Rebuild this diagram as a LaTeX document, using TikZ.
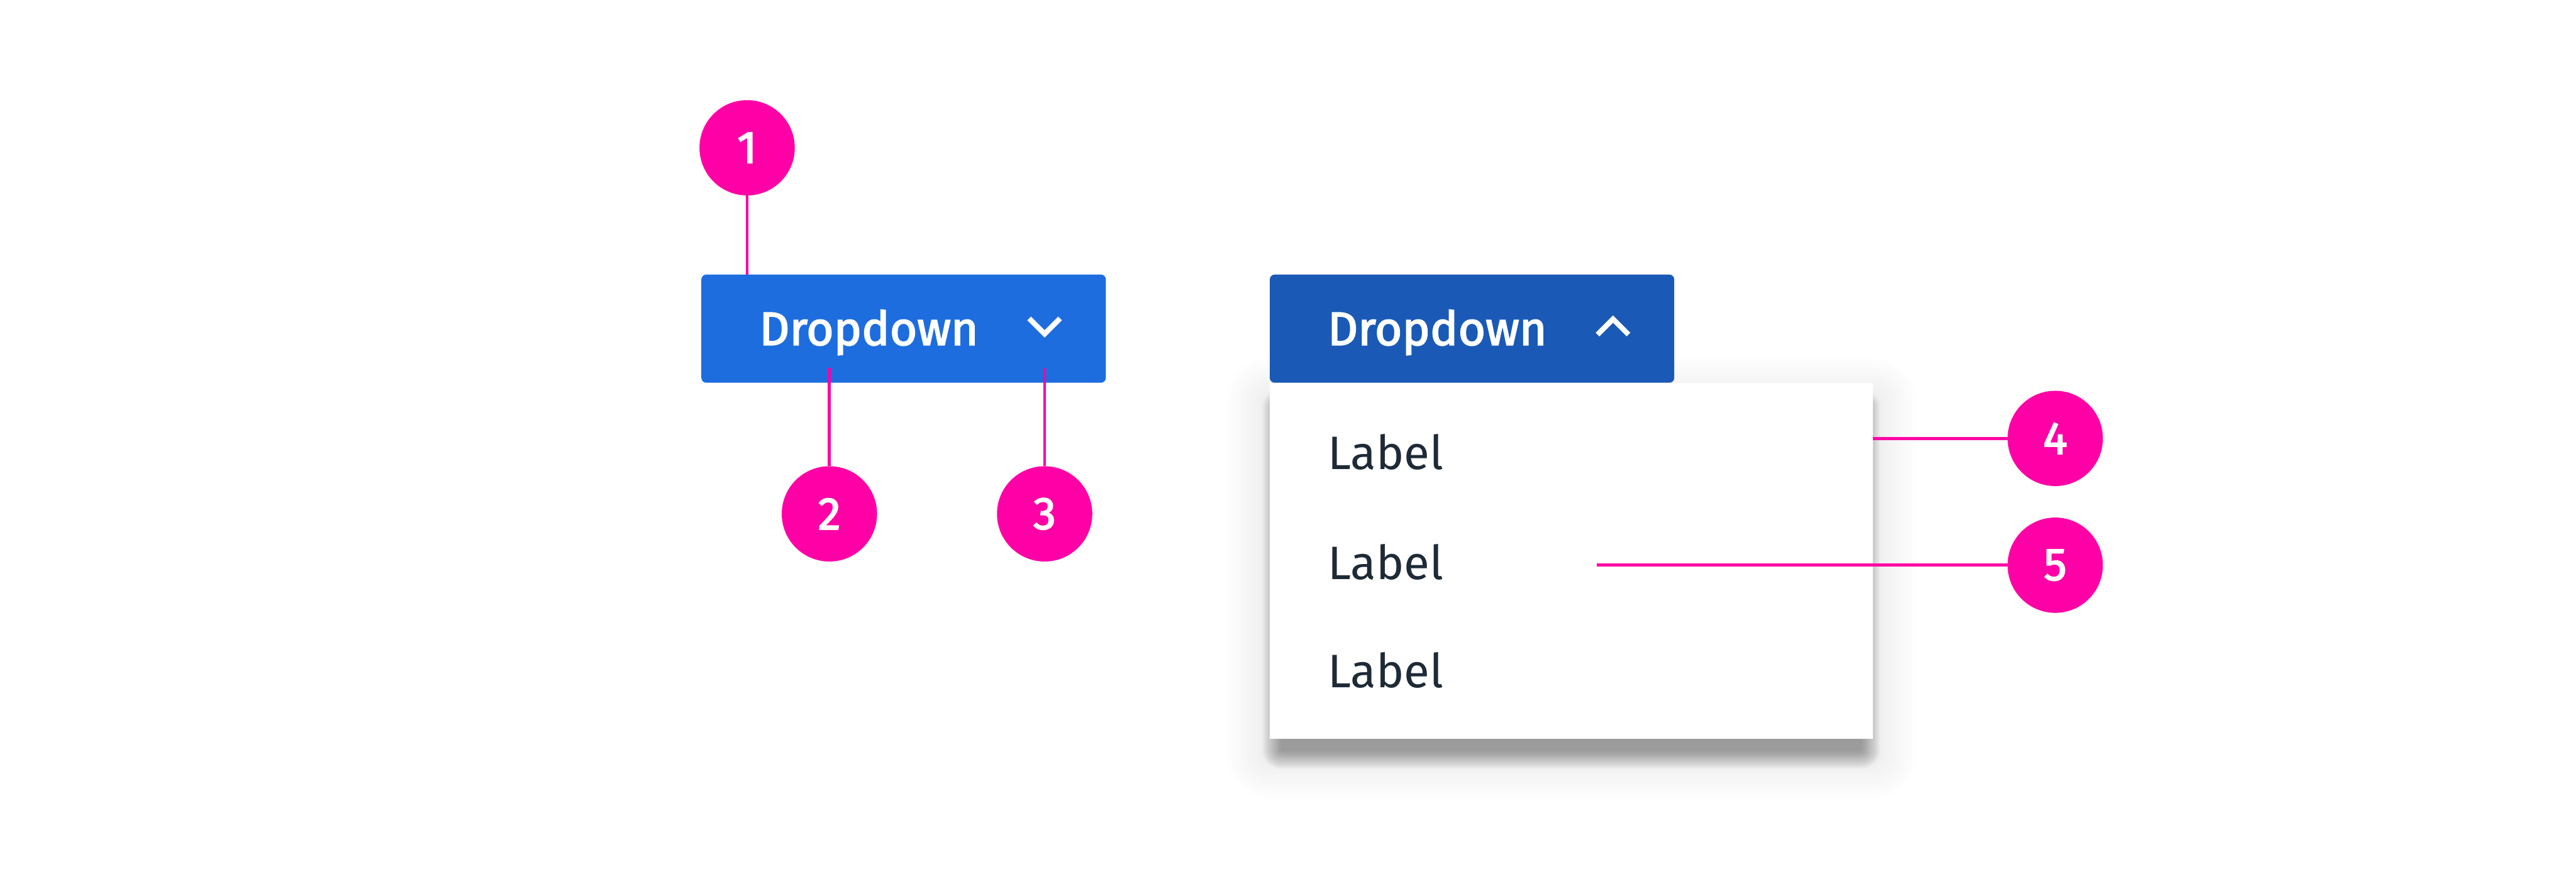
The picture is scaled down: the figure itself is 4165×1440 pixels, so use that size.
\documentclass[tikz,border=0pt]{standalone}
\usepackage{fontspec}
\setmainfont{Fira Sans}
\newfontfamily\semib{Fira Sans}[FakeBold=2.5]
\definecolor{mag}{HTML}{FF00A6}
\definecolor{blueA}{HTML}{1D6DDF}
\definecolor{blueB}{HTML}{1A5AB6}
\definecolor{labcol}{HTML}{1E2A36}
\tikzset{
  badge/.style={circle, fill=mag, minimum size=1.54cm, inner sep=0pt, text=white,
    font=\semib\fontsize{21}{25}\selectfont},
  leader/.style={draw=mag, line width=1.4pt},
  btntext/.style={anchor=base west, inner sep=0pt, text=white, font=\semib\fontsize{21.6}{25}\selectfont},
  itemtext/.style={anchor=base west, inner sep=0pt, text=labcol, font=\fontsize{21.6}{26}\selectfont},
  chev/.style={draw=white, line width=2.4pt, line cap=butt, line join=miter}
}
\begin{document}
\begin{tikzpicture}[x=0.01cm, y=-0.01cm]
\useasboundingbox (0,0) rectangle (4165,1440);
\fill[white] (0,0) rectangle (4165,1440);

% ---- closed dropdown ----
\fill[blueA, rounded corners=0.08cm] (1134,444) rectangle (1788,619);
\node[btntext] (t1) at (1227,558) {Dropdown};
\draw[chev] (1664,515) -- (1689,540) -- (1714,515);

% ---- open dropdown: shadow + menu ----
\foreach \r in {4,8,...,72} {
  \fill[black, opacity=0.0045, rounded corners=\r*0.01cm]
    (2053-\r, 650-\r) rectangle (3028+\r, 1220+\r);
}
\foreach \r in {2,4,...,32} {
  \fill[black, opacity=0.024, rounded corners=\r*0.01cm]
    (2073-\r, 660-\r) rectangle (3008+\r, 1212+\r);
}
\fill[white] (2053,619) rectangle (3028,1195);
\fill[blueB, rounded corners=0.08cm] (2053,444) rectangle (2707,619);
\node[btntext] (t2) at (2146,558) {Dropdown};
\draw[chev] (2583,541) -- (2608,516) -- (2633,541);

\node[itemtext] (l1) at (2146,759) {Label};
\node[itemtext] (l2) at (2146,937) {Label};
\node[itemtext] (l3) at (2146,1112) {Label};

% ---- badges ----
\node[badge] (c1) at (1208,239) {1};
\node[badge] (c2) at (1341,831) {2};
\node[badge] (c3) at (1689,831) {3};
\node[badge] (c4) at (3323,709) {4};
\node[badge] (c5) at (3323,914) {5};

\coordinate (p1) at (1208,444);
\coordinate (p2) at (1341,595);
\coordinate (p3) at (1689,595);
\coordinate (p4) at (3028,709);
\coordinate (p5) at (2582,914);

\draw[leader] (c1.south) -- (p1);
\draw[leader] (p2) -- (c2.north);
\draw[leader] (p3) -- (c3.north);
\draw[leader] (p4) -- (c4.west);
\draw[leader] (p5) -- (c5.west);
\end{tikzpicture}
\end{document}
